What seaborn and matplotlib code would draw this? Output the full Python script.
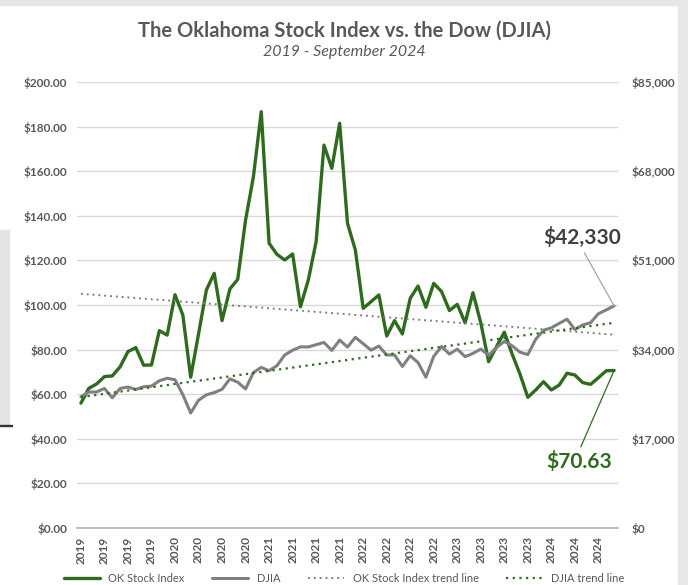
#%% Import Libraries
import numpy as np
import pandas as pd
import seaborn as sns
import matplotlib.pyplot as plt
from matplotlib.patches import Rectangle
from matplotlib.lines import Line2D
from matplotlib.ticker import FuncFormatter

#%% Data (monthly, Jan 2019 - Sep 2024)
years = [2019] * 12 + [2020] * 12 + [2021] * 12 + [2022] * 12 + [2023] * 12 + [2024] * 9
ok_index = [56.0, 62.6, 64.6, 67.9, 68.2, 72.3, 79.1, 80.9, 73.0, 73.1, 88.5, 86.5,
            104.6, 95.5, 67.6, 87.0, 106.7, 114.2, 93.0, 107.2, 111.5, 138.1, 157.5, 186.7,
            127.7, 122.7, 120.2, 122.9, 99.2, 111.2, 128.4, 171.7, 161.3, 181.5, 136.6, 124.7,
            98.5, 101.5, 104.5, 86.1, 93.0, 87.0, 103.0, 108.5, 99.0, 109.7, 106.0, 97.5,
            100.3, 92.0, 105.5, 92.0, 74.6, 81.3, 87.8, 78.0, 69.0, 58.6, 61.9, 65.6,
            61.9, 64.1, 69.4, 68.6, 65.2, 64.4, 67.4, 70.5, 70.63]
djia = [24999, 25916, 25929, 26593, 24815, 26600, 26864, 26403, 26917, 27046, 28051, 28538,
        28256, 25409, 21917, 24346, 25383, 25813, 26428, 28430, 27782, 26502, 29639, 30606,
        29983, 30932, 32982, 33875, 34529, 34503, 34935, 35361, 33844, 35820, 34484, 36338,
        35132, 33893, 34678, 32977, 32990, 30775, 32845, 31510, 28726, 32733, 34590, 33147,
        34086, 32657, 33274, 34098, 32908, 34408, 35560, 34722, 33508, 33053, 35951, 37690,
        38150, 38996, 39807, 37816, 38686, 39119, 40843, 41563, 42330]

df = pd.DataFrame({"t": np.arange(len(years)), "year": years,
                   "ok": ok_index, "djia": djia})

GREEN = "#2e6b1e"
GRAY = "#808080"
TXT = "#595959"

#%% Plot
sns.set_theme(style="white")
plt.rcParams["font.family"] = ["Lato", "DejaVu Sans"]

fig = plt.figure(figsize=(6.88, 5.85), dpi=100)
W, H = 688, 585

# screenshot frame (behind everything)
for r in [Rectangle((0, 1 - 5 / H), 1, 5 / H, color="#e7e7e7"),
          Rectangle((678 / W, 0), 10 / W, 1, color="#e7e7e7"),
          Rectangle((0, 1 - 425 / H), 9 / W, 195 / H, color="#e4e4e4"),
          Rectangle((0, 1 - 426 / H), 12 / W, 1.5 / H, color="#333333")]:
    r.set_transform(fig.transFigure)
    r.set_zorder(-5)
    fig.patches.append(r)

ax = fig.add_axes([77 / W, 1 - 528 / H, (618 - 77) / W, (528 - 82) / H])
ax2 = ax.twinx()

sns.lineplot(data=df, x="t", y="ok", ax=ax, color=GREEN, lw=2.4, label="OK Stock Index", legend=False)
sns.lineplot(data=df, x="t", y="djia", ax=ax2, color=GRAY, lw=2.2, label="DJIA", legend=False)
sns.regplot(data=df, x="t", y="ok", ax=ax, scatter=False, ci=None, truncate=True,
            line_kws=dict(color=GRAY, lw=1.4, ls=(0, (1, 2))))
sns.regplot(data=df, x="t", y="djia", ax=ax2, scatter=False, ci=None, truncate=True,
            line_kws=dict(color=GREEN, lw=1.6, ls=(0, (1, 2))))

ax.set_ylim(0, 200)
ax2.set_ylim(0, 85000)
ax.set_xlim(-0.5, len(years) - 0.5)
ax.set_yticks(np.arange(0, 201, 20))
ax2.set_yticks(np.arange(0, 85001, 17000))
ax.yaxis.set_major_formatter(FuncFormatter(lambda v, p: f"${v:,.2f}"))
ax2.yaxis.set_major_formatter(FuncFormatter(lambda v, p: f"${v:,.0f}"))
ax.grid(axis="y", color="#d9d9d9", lw=1)
ax2.grid(False)

ax.set_xticks(df["t"][::3])
ax.set_xticklabels(df["year"][::3], rotation=90)
ax.set_xticks(np.arange(-0.5, len(years), 3), minor=True)
ax.tick_params(axis="x", which="major", length=0, pad=6, labelsize=8.5, labelcolor=TXT)
ax.tick_params(axis="x", which="minor", length=4, color="#bfbfbf", width=1)
ax.tick_params(axis="y", length=0, pad=7, labelsize=8.5, labelcolor=TXT)
ax2.tick_params(axis="y", length=0, pad=10, labelsize=8.5, labelcolor=TXT)
for lab in ax.get_xticklabels() + ax.get_yticklabels() + ax2.get_yticklabels():
    lab.set_fontweight("bold")
ax.set_xlabel("")
ax.set_ylabel("")
ax2.set_ylabel("")
for a in (ax, ax2):
    for s in ("top", "left", "right"):
        a.spines[s].set_visible(False)
    a.spines["bottom"].set_color("#bfbfbf")

# end value callouts
ax2.annotate(f"${djia[-1]:,}", xy=(df["t"].iloc[-1], djia[-1]), xytext=(63.9, 55300),
             ha="center", va="center", fontsize=15, fontweight="bold", color="#404040",
             arrowprops=dict(arrowstyle="-", color="#a6a6a6", lw=0.9, shrinkA=1, shrinkB=0,
                             relpos=(0.5, 0)))
ax.annotate(f"${ok_index[-1]:.2f}", xy=(df["t"].iloc[-1], ok_index[-1]), xytext=(63.5, 29.6),
            ha="center", va="center", fontsize=15, fontweight="bold", color=GREEN,
            arrowprops=dict(arrowstyle="-", color=GREEN, lw=0.9, shrinkA=1, shrinkB=0,
                            relpos=(0.5, 1)))

# titles
fig.text(0.5, 1 - 31 / H, "The Oklahoma Stock Index vs. the Dow (DJIA)", ha="center", va="center",
         fontsize=14.5, fontweight="bold", color=TXT)
fig.text(0.5, 1 - 52 / H, "2019 - September 2024", ha="center", va="center",
         fontsize=11.5, style="italic", color=TXT)

# legend along the bottom edge
handles = [Line2D([], [], color=GREEN, lw=2.4), Line2D([], [], color=GRAY, lw=2.2),
           Line2D([], [], color=GRAY, lw=1.4, ls=(0, (1, 2))),
           Line2D([], [], color=GREEN, lw=1.6, ls=(0, (1, 2)))]
fig.legend(handles, ["OK Stock Index", "DJIA", "OK Stock Index trend line", "DJIA trend line"],
           loc="center", bbox_to_anchor=(0.5, 1 - 578 / H), ncol=4, frameon=False, fontsize=8,
           handlelength=3.2, columnspacing=2.5, labelcolor=TXT, borderpad=0.1)

fig.savefig("out.png", dpi=100)
